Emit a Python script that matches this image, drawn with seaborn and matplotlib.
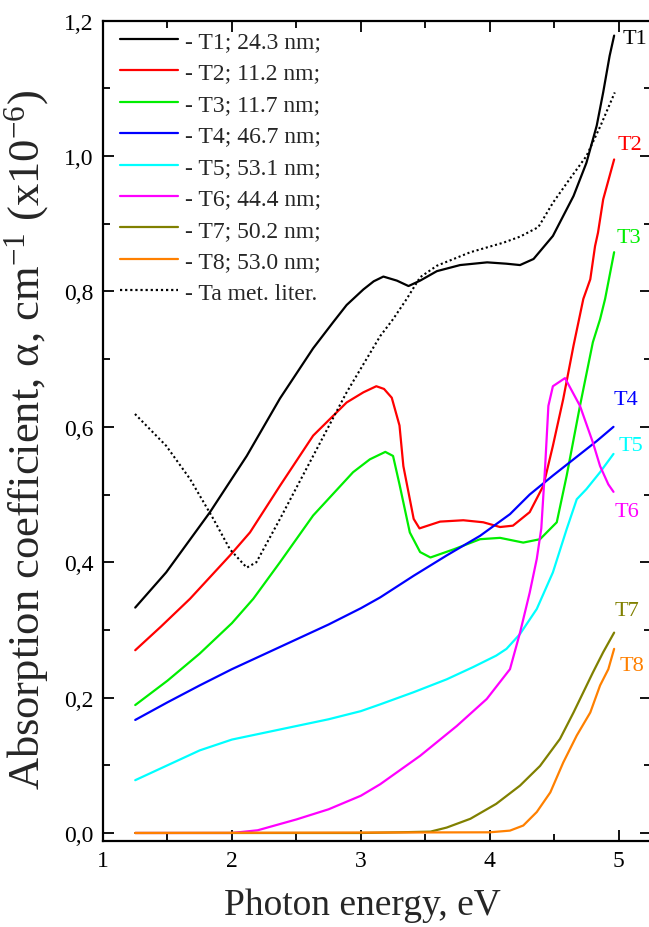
import matplotlib
matplotlib.use("Agg")
import matplotlib.pyplot as plt
import seaborn as sns
import pandas as pd
from matplotlib.ticker import MultipleLocator, FuncFormatter

sns.set_theme(style="ticks")
plt.rcParams['font.family'] = ['Liberation Serif', 'DejaVu Serif']
plt.rcParams['mathtext.fontset'] = 'custom'
plt.rcParams['mathtext.rm'] = 'Liberation Serif'
plt.rcParams['mathtext.it'] = 'Liberation Serif:italic'
plt.rcParams['mathtext.default'] = 'regular'

# ---------------- data ----------------
t1_x = [1.25, 1.31, 1.49, 1.83, 2.115, 2.373, 2.63, 2.787, 2.89, 3.02, 3.10, 3.175, 3.28, 3.37, 3.46, 3.59, 3.77,
        3.98, 4.13, 4.235, 4.34, 4.49, 4.65, 4.75, 4.83, 4.88, 4.93, 4.965]
t1_y = [0.333, 0.346, 0.385, 0.474, 0.557, 0.642, 0.716, 0.755, 0.780, 0.803, 0.815, 0.822, 0.816, 0.808, 0.816,
        0.830, 0.839, 0.843, 0.841, 0.839, 0.848, 0.882, 0.941, 0.990, 1.045, 1.094, 1.148, 1.178]

t2_x = [1.25, 1.45, 1.675, 1.985, 2.14, 2.373, 2.63, 2.89, 3.02, 3.12, 3.18, 3.24, 3.30, 3.33, 3.41, 3.455, 3.615,
        3.795, 3.95, 4.08, 4.18, 4.31, 4.416, 4.49, 4.57, 4.65, 4.726, 4.78, 4.817, 4.84, 4.88, 4.965]
t2_y = [0.270, 0.305, 0.346, 0.410, 0.444, 0.513, 0.587, 0.636, 0.651, 0.660, 0.656, 0.643, 0.602, 0.542, 0.464,
        0.450, 0.460, 0.462, 0.459, 0.452, 0.454, 0.474, 0.513, 0.572, 0.641, 0.720, 0.789, 0.818, 0.867, 0.887,
        0.936, 0.995]

t3_x = [1.25, 1.5, 1.75, 2.0, 2.166, 2.373, 2.63, 2.94, 3.07, 3.19, 3.25, 3.30, 3.38, 3.46, 3.54, 3.72, 3.925,
        4.08, 4.26, 4.39, 4.52, 4.597, 4.70, 4.80, 4.856, 4.895, 4.965]
t3_y = [0.189, 0.225, 0.265, 0.310, 0.346, 0.400, 0.469, 0.533, 0.552, 0.563, 0.557, 0.515, 0.444, 0.415, 0.407,
        0.419, 0.434, 0.436, 0.429, 0.434, 0.459, 0.528, 0.631, 0.725, 0.759, 0.789, 0.858]

t4_x = [1.25, 1.5, 1.75, 2.0, 2.25, 2.5, 2.75, 3.0, 3.15, 3.41, 3.666, 3.925, 4.157, 4.31, 4.49, 4.65, 4.83, 4.96]
t4_y = [0.167, 0.193, 0.218, 0.242, 0.264, 0.286, 0.308, 0.332, 0.348, 0.380, 0.410, 0.439, 0.471, 0.500, 0.528,
        0.552, 0.579, 0.600]

t5_x = [1.25, 1.5, 1.75, 2.0, 2.25, 2.5, 2.75, 3.0, 3.15, 3.41, 3.666, 3.87, 4.05, 4.13, 4.235, 4.365, 4.49,
        4.597, 4.675, 4.75, 4.856, 4.96]
t5_y = [0.078, 0.100, 0.122, 0.138, 0.148, 0.158, 0.168, 0.180, 0.190, 0.208, 0.227, 0.245, 0.262, 0.272, 0.294,
        0.331, 0.385, 0.449, 0.493, 0.508, 0.533, 0.560]

t6_x = [1.25, 2.0, 2.2, 2.5, 2.75, 3.0, 3.15, 3.46, 3.744, 3.977, 4.157, 4.235, 4.31, 4.365, 4.40, 4.43, 4.455,
        4.49, 4.584, 4.70, 4.80, 4.856, 4.92, 4.96]
t6_y = [0.0, 0.0, 0.004, 0.020, 0.035, 0.055, 0.072, 0.114, 0.158, 0.198, 0.242, 0.296, 0.355, 0.405, 0.450,
        0.542, 0.631, 0.660, 0.672, 0.631, 0.577, 0.542, 0.515, 0.504]

t7_x = [1.25, 3.0, 3.3, 3.54, 3.666, 3.85, 4.05, 4.235, 4.39, 4.545, 4.65, 4.80, 4.88, 4.965]
t7_y = [0.0, 0.0, 0.001, 0.002, 0.008, 0.021, 0.043, 0.070, 0.099, 0.139, 0.178, 0.237, 0.267, 0.296]

t8_x = [1.25, 4.0, 4.157, 4.26, 4.365, 4.47, 4.57, 4.675, 4.78, 4.856, 4.92, 4.965]
t8_y = [0.0, 0.001, 0.0035, 0.011, 0.031, 0.060, 0.104, 0.144, 0.178, 0.218, 0.242, 0.272]

ta_x = [1.248, 1.49, 1.675, 1.856, 1.985, 2.115, 2.19, 2.373, 2.63, 2.89, 3.15, 3.25, 3.356, 3.46, 3.59, 3.85,
        4.105, 4.235, 4.377, 4.49, 4.62, 4.75, 4.86, 4.97]
ta_y = [0.619, 0.572, 0.523, 0.464, 0.419, 0.392, 0.400, 0.464, 0.557, 0.651, 0.734, 0.759, 0.789, 0.821, 0.838,
        0.858, 0.872, 0.881, 0.895, 0.931, 0.966, 1.000, 1.045, 1.094]

legend_labels = ["- T1; 24.3 nm;", "- T2; 11.2 nm;", "- T3; 11.7 nm;", "- T4; 46.7 nm;", "- T5; 53.1 nm;",
                 "- T6; 44.4 nm;", "- T7; 50.2 nm;", "- T8; 53.0 nm;", "- Ta met. liter."]
end_labels = ["T1", "T2", "T3", "T4", "T5", "T6", "T7", "T8"]
end_label_pos = [(5.03, 1.173), (4.995, 1.017), (4.98, 0.879), (4.957, 0.641), (5.0, 0.572),
                 (4.97, 0.4755), (4.97, 0.328), (5.01, 0.247)]
colors = ["#000000", "#ff0000", "#00ee00", "#0000ff", "#00ffff", "#ff00ff", "#808000", "#ff8000"]

series_x = [t1_x, t2_x, t3_x, t4_x, t5_x, t6_x, t7_x, t8_x, ta_x]
series_y = [t1_y, t2_y, t3_y, t4_y, t5_y, t6_y, t7_y, t8_y, ta_y]

# ---------------- figure ----------------
fig = plt.figure(figsize=(6.49, 9.28), dpi=100)
ax = fig.add_axes([103/649, 1-841.7/928, (651-103)/649, (841.7-21.7)/928])

for i, (xs, ys) in enumerate(zip(series_x, series_y)):
    df = pd.DataFrame({"E": xs, "a": ys})
    if i < 8:
        sns.lineplot(data=df, x="E", y="a", ax=ax, color=colors[i], lw=1.6, label=legend_labels[i],
                     sort=False, estimator=None)
    else:
        sns.lineplot(data=df, x="E", y="a", ax=ax, color="black", lw=1.5, linestyle=(0, (1, 1.3)),
                     label=legend_labels[i], sort=False, estimator=None)

for i, (lab, (px, py)) in enumerate(zip(end_labels, end_label_pos)):
    ax.text(px, py, lab, color=colors[i], fontsize=16, ha='left', va='center')

ax.set_xlim(1, 5.251)
ax.set_ylim(-0.0114, 1.2)
ax.xaxis.set_major_locator(MultipleLocator(1))
ax.xaxis.set_minor_locator(MultipleLocator(0.5))
ax.yaxis.set_major_locator(MultipleLocator(0.2))
ax.yaxis.set_minor_locator(MultipleLocator(0.1))
ax.xaxis.set_major_formatter(FuncFormatter(lambda v, p: f"{v:.0f}"))
ax.yaxis.set_major_formatter(FuncFormatter(lambda v, p: f"{v:.1f}".replace('.', ',')))
ax.tick_params(which='both', direction='in', top=True, right=True, width=1.3, colors='black',
               labelsize=17, labelcolor='black')
ax.tick_params(which='major', length=8, pad=7)
ax.tick_params(which='minor', length=5)
for s in ax.spines.values():
    s.set_linewidth(1.6)
    s.set_color('black')

ax.set_xlabel("Photon energy, eV", fontsize=27)
ax.xaxis.set_label_coords(0.473, -0.057)
ax.set_ylabel(r"Absorption coefficient, α, cm$^{-1}$ (x10$^{-6}$)", fontsize=32)
ax.yaxis.set_label_coords(-0.095, 0.49)

leg = ax.legend(loc='upper left', bbox_to_anchor=(0.031, 0.988), frameon=False, fontsize=17,
                handlelength=2.45, handletextpad=0.3, labelspacing=0.42, borderpad=0, borderaxespad=0)
for h in leg.get_lines():
    h.set_linewidth(1.6)

fig.savefig("out.png", dpi=100)
